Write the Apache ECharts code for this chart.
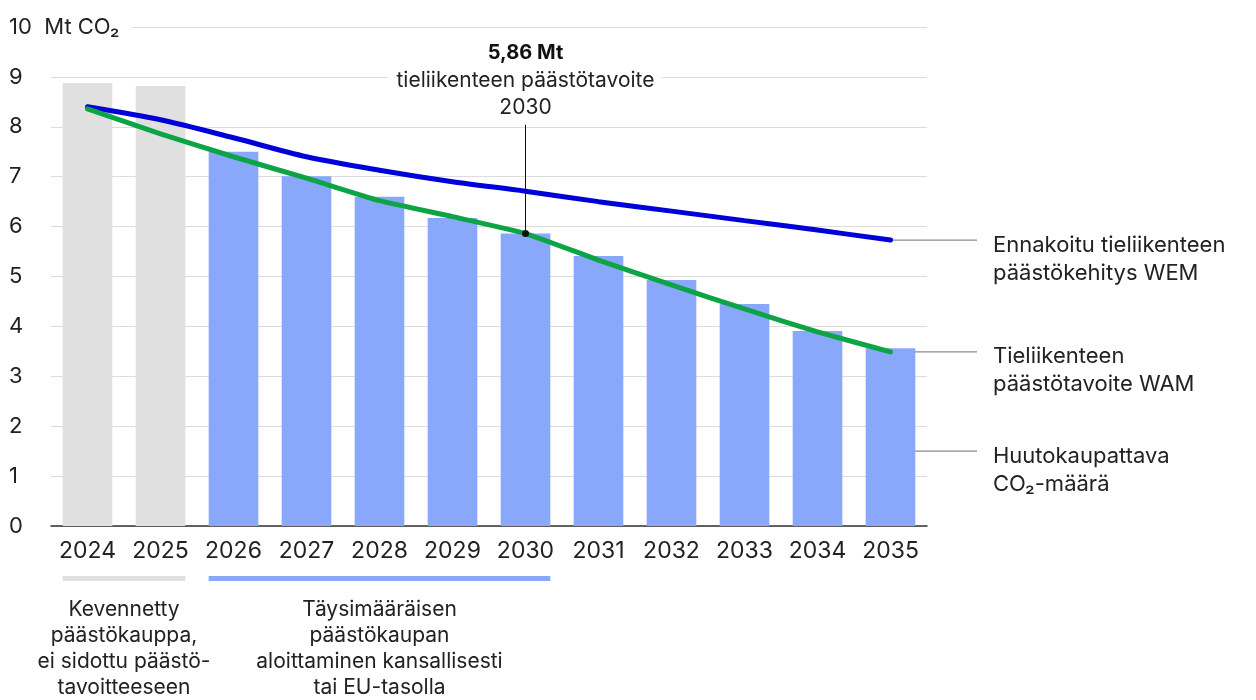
<!DOCTYPE html>
<html>
<head>
<meta charset="utf-8">
<script src="https://cdn.jsdelivr.net/npm/echarts@6/dist/echarts.min.js"></script>
<style>
  html, body { margin: 0; background: #fff; }
  #chart { width: 1256px; height: 700px; }
</style>
</head>
<body>
<div id="chart"></div>
<script>
// data
const years = ["2024", "2025", "2026", "2027", "2028", "2029", "2030", "2031", "2032", "2033", "2034", "2035"];
const auctionVolume = [8.88, 8.82, 7.5, 7.01, 6.6, 6.17, 5.86, 5.41, 4.93, 4.45, 3.91, 3.56];
const wemProjection = [8.4, 8.14, 7.78, 7.4, 7.13, 6.9, 6.71, 6.5, 6.31, 6.12, 5.93, 5.73];
const wamTarget = [8.36, 7.86, 7.4, 6.97, 6.52, 6.2, 5.86, 5.33, 4.83, 4.35, 3.89, 3.49];
const yTicks = [0, 1, 2, 3, 4, 5, 6, 7, 8, 9, 10];

const reducedYears = ["2024", "2025"];
const fullYears = ["2026", "2027", "2028", "2029", "2030"];
const phaseLabels = [
  "Kevennetty\npäästökauppa,\nei sidottu päästö-\ntavoitteeseen",
  "Täysimääräisen\npäästökaupan\naloittaminen kansallisesti\ntai EU-tasolla",
];
const seriesLabels = [
  "Ennakoitu tieliikenteen\npäästökehitys WEM",
  "Tieliikenteen\npäästötavoite WAM",
  "Huutokaupattava\nCO₂-määrä",
];
const targetYear = "2030";
const targetValue = 5.86;
const targetLabelAnchor = 8.04; // top of the callout stem
const barLabelAnchor = 1.5;     // where the bar's leader line starts

const FONT = "Inter";
const GREY_BAR = "#e0e0e0";
const BLUE_BAR = "#8aa8fb";
const TEXT = "#222";

const chart = echarts.init(document.getElementById("chart"));

chart.setOption({
  animation: false,
  textStyle: { fontFamily: FONT },
  grid: { top: 27, left: 51, right: 329, bottom: 174 },
  xAxis: {
    type: "category",
    data: years,
    axisLine: { lineStyle: { color: "#333", width: 1.5 } },
    axisTick: { show: false },
    axisLabel: { color: TEXT, fontSize: 23, margin: 14, interval: 0, hideOverlap: false },
  },
  yAxis: {
    type: "value",
    min: yTicks[0],
    max: yTicks[yTicks.length - 1],
    interval: 1,
    axisLine: { show: false },
    axisTick: { show: false },
    splitLine: { lineStyle: { color: "#dcdcdc", width: 1 } },
    axisLabel: {
      color: TEXT,
      fontSize: 22,
      align: "left",
      margin: 42,
      backgroundColor: "#fff",
      padding: [0, 12, 0, 0],
      formatter: (v) => (v === yTicks[yTicks.length - 1] ? v + "  Mt CO₂" : String(v)),
    },
  },
  series: [
    {
      name: "bars",
      type: "bar",
      data: auctionVolume.map((v, i) => ({
        value: v,
        itemStyle: { color: reducedYears.includes(years[i]) ? GREY_BAR : BLUE_BAR },
      })),
      barWidth: "68%",
      z: 1,
    },
    {
      name: "WEM",
      type: "line",
      data: wemProjection,
      smooth: 0.3,
      symbol: "none",
      lineStyle: { color: "#0000d8", width: 5, cap: "round" },
      z: 3,
    },
    {
      name: "WAM",
      type: "line",
      data: wamTarget,
      smooth: 0.15,
      symbol: "none",
      lineStyle: { color: "#0ca445", width: 5, cap: "round" },
      z: 4,
      markLine: {
        silent: true,
        symbol: "none",
        label: { show: false },
        lineStyle: { color: "#111", width: 1, type: "solid" },
        data: [[{ coord: [targetYear, targetValue] }, { coord: [targetYear, targetLabelAnchor] }]],
      },
      markPoint: {
        silent: true,
        data: [
          {
            coord: [targetYear, targetValue],
            symbol: "circle",
            symbolSize: 7,
            itemStyle: { color: "#111" },
            label: { show: false },
          },
          {
            coord: [targetYear, targetLabelAnchor],
            symbol: "circle",
            symbolSize: 0,
            label: {
              show: true,
              position: "top",
              distance: 4,
              formatter: "{b|" + String(targetValue).replace(".", ",") + " Mt}\n{t|tieliikenteen päästötavoite}\n{t|" + targetYear + "}",
              rich: {
                b: { fontSize: 20, fontWeight: "bold", color: "#111", lineHeight: 27, fontFamily: FONT },
                t: { fontSize: 21, color: TEXT, lineHeight: 27, backgroundColor: "#fff", padding: [0, 8], fontFamily: FONT },
              },
            },
          },
        ],
      },
    },
  ],
});

// leader lines, side labels and phase bars, placed through the chart's own scales
const last = years.length - 1;
const toPx = (cat, val) => chart.convertToPixel({ xAxisIndex: 0, yAxisIndex: 0 }, [cat, val]);
const lineEndX = 977;
const textX = 993;
const graphics = [];

const anchors = [
  { p: toPx(years[last], wemProjection[last]), dx: 0 },
  { p: toPx(years[last], wamTarget[last]), dx: 0 },
  { p: toPx(years[last], barLabelAnchor), dx: 12 },
];
anchors.forEach((a, i) => {
  graphics.push({
    type: "line",
    z: 0,
    shape: { x1: a.p[0] + a.dx, y1: a.p[1], x2: lineEndX, y2: a.p[1] },
    style: { stroke: "#8a8a8a", lineWidth: 1.2 },
  });
  graphics.push({
    type: "text",
    x: textX,
    y: a.p[1] - 9,
    style: {
      text: seriesLabels[i],
      fill: TEXT,
      fontSize: 22,
      fontFamily: FONT,
      lineHeight: 28,
      textAlign: "left",
      textVerticalAlign: "top",
    },
  });
});

const band = (chart.convertToPixel({ xAxisIndex: 0 }, years[1]) - chart.convertToPixel({ xAxisIndex: 0 }, years[0]));
const halfBar = band * 0.34;
const baseY = toPx(years[0], 0)[1];
[[reducedYears, GREY_BAR], [fullYears, BLUE_BAR]].forEach(([group, color], i) => {
  const x0 = chart.convertToPixel({ xAxisIndex: 0 }, group[0]) - halfBar;
  const x1 = chart.convertToPixel({ xAxisIndex: 0 }, group[group.length - 1]) + halfBar;
  graphics.push({
    type: "rect",
    shape: { x: x0, y: baseY + 50, width: x1 - x0, height: 5 },
    style: { fill: color },
  });
  graphics.push({
    type: "text",
    x: (x0 + x1) / 2,
    y: baseY + 71,
    style: {
      text: phaseLabels[i],
      fill: TEXT,
      fontSize: 21,
      fontFamily: FONT,
      lineHeight: 26,
      textAlign: "center",
      textVerticalAlign: "top",
    },
  });
});

chart.setOption({ graphic: graphics });
</script>
</body>
</html>
